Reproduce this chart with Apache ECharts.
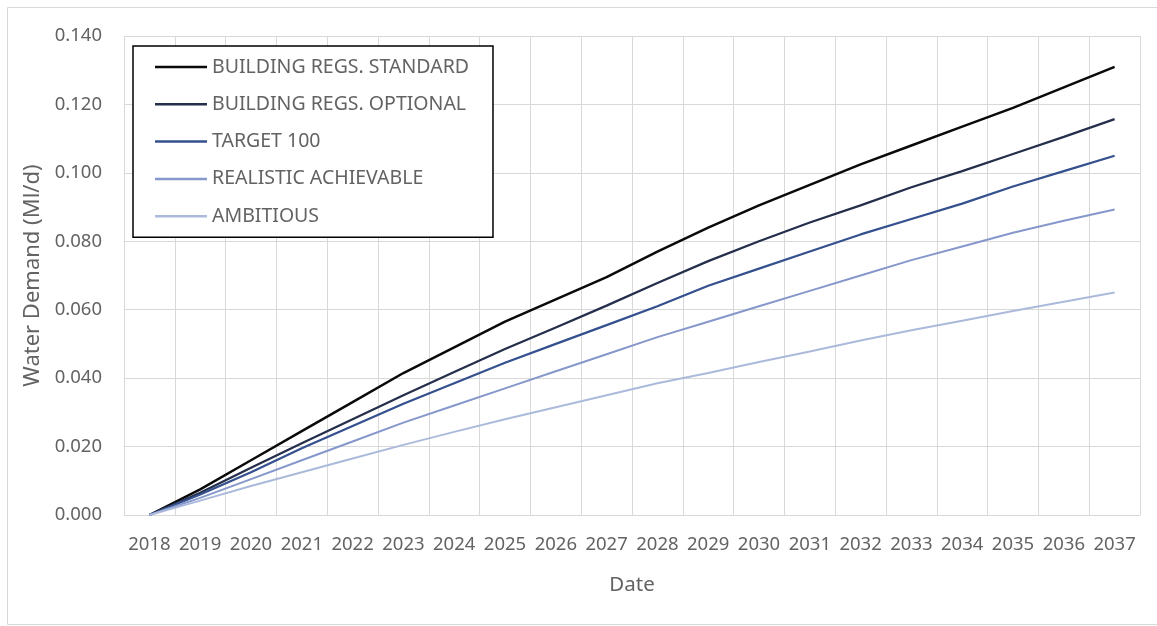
<!DOCTYPE html>
<html>
<head>
<meta charset="utf-8">
<title>Water Demand</title>
<script src="https://cdn.jsdelivr.net/npm/echarts@6/dist/echarts.min.js"></script>
<style>
  html, body { margin: 0; padding: 0; background: #fff; }
  #chart { width: 1157px; height: 626px; }
</style>
</head>
<body>
<div id="chart"></div>
<script>
// Years on the category axis
const years = ['2018','2019','2020','2021','2022','2023','2024','2025','2026','2027',
               '2028','2029','2030','2031','2032','2033','2034','2035','2036','2037'];

// Cumulative water demand (Ml/d) per scenario
const buildingRegsStandard = [0, 0.0075, 0.016, 0.0245, 0.033, 0.0415, 0.049, 0.0565, 0.063, 0.0695,
                              0.077, 0.084, 0.0905, 0.0965, 0.1025, 0.108, 0.1135, 0.119, 0.125, 0.131];
const buildingRegsOptional = [0, 0.0065, 0.0138, 0.021, 0.028, 0.035, 0.0418, 0.0485, 0.0548, 0.0612,
                              0.0678, 0.0742, 0.080, 0.0855, 0.0905, 0.0958, 0.1005, 0.1055, 0.1105, 0.1157];
const target100 = [0, 0.006, 0.0125, 0.0195, 0.026, 0.0325, 0.0385, 0.0445, 0.050, 0.0555,
                   0.061, 0.067, 0.072, 0.077, 0.082, 0.0865, 0.091, 0.096, 0.1005, 0.105];
const realisticAchievable = [0, 0.005, 0.0105, 0.016, 0.0215, 0.027, 0.032, 0.037, 0.042, 0.047,
                             0.052, 0.0565, 0.061, 0.0655, 0.070, 0.0745, 0.0785, 0.0825, 0.086, 0.0893];
const ambitious = [0, 0.0042, 0.0085, 0.0125, 0.0165, 0.0205, 0.0243, 0.028, 0.0315, 0.035,
                   0.0385, 0.0415, 0.0447, 0.0478, 0.051, 0.054, 0.0568, 0.0596, 0.0623, 0.065];

const seriesNames = ['BUILDING REGS. STANDARD', 'BUILDING REGS. OPTIONAL', 'TARGET 100',
                     'REALISTIC ACHIEVABLE', 'AMBITIOUS'];
const seriesColors = ['#0a0a0a', '#252f4c', '#35508e', '#8597cb', '#abbadb'];
const seriesWidths = [2.5, 2.25, 2.25, 2, 2];

const FONT = '"Noto Sans", "Open Sans", sans-serif';
const TEXT = '#636363';
const GRID = '#d9d9d9';

function line(i, data) {
  return {
    name: seriesNames[i],
    type: 'line',
    data: data,
    symbol: 'none',
    smooth: false,
    lineStyle: { color: seriesColors[i], width: seriesWidths[i] },
    itemStyle: { color: seriesColors[i] },
    emphasis: { disabled: true }
  };
}

const chart = echarts.init(document.getElementById('chart'), null, { renderer: 'canvas' });

chart.setOption({
  animation: false,
  backgroundColor: '#ffffff',
  textStyle: { fontFamily: FONT },
  graphic: [{
    type: 'rect',
    silent: true,
    z: -1,
    shape: { x: 7.5, y: 7.5, width: 1160, height: 617 },
    style: { fill: null, stroke: GRID, lineWidth: 1 }
  }],
  grid: { left: 124, right: 17, top: 36, bottom: 111 },
  legend: {
    data: seriesNames.map(function (n) { return { name: n, icon: 'rect' }; }),
    orient: 'vertical',
    left: 133,
    top: 46,
    padding: [11, 24, 11, 22],
    itemWidth: 52,
    itemHeight: 2.5,
    itemGap: 17.3,
    backgroundColor: '#ffffff',
    borderColor: '#000000',
    borderWidth: 1.5,
    borderRadius: 0,
    textStyle: { fontFamily: FONT, fontSize: 19.5, color: TEXT },
    selectedMode: false
  },
  xAxis: {
    type: 'category',
    data: years,
    boundaryGap: true,
    name: 'Date',
    nameLocation: 'middle',
    nameGap: 60,
    nameTextStyle: { fontFamily: FONT, fontSize: 20.5, color: TEXT },
    axisLine: { show: true, lineStyle: { color: GRID, width: 1 } },
    axisTick: { show: false },
    axisLabel: { fontFamily: FONT, fontSize: 18.5, color: TEXT, margin: 20, interval: 0 },
    splitLine: { show: true, interval: 0, lineStyle: { color: GRID, width: 1 } }
  },
  yAxis: {
    type: 'value',
    min: 0,
    max: 0.14,
    interval: 0.02,
    name: 'Water Demand (Ml/d)',
    nameLocation: 'middle',
    nameGap: 80,
    nameRotate: 90,
    nameTextStyle: { fontFamily: FONT, fontSize: 22, color: TEXT },
    axisLine: { show: false },
    axisTick: { show: false },
    axisLabel: {
      fontFamily: FONT, fontSize: 18.5, color: TEXT, margin: 22,
      formatter: function (v) { return v.toFixed(3); }
    },
    splitLine: { show: true, lineStyle: { color: GRID, width: 1 } }
  },
  series: [
    line(0, buildingRegsStandard),
    line(1, buildingRegsOptional),
    line(2, target100),
    line(3, realisticAchievable),
    line(4, ambitious)
  ]
});
</script>
</body>
</html>
